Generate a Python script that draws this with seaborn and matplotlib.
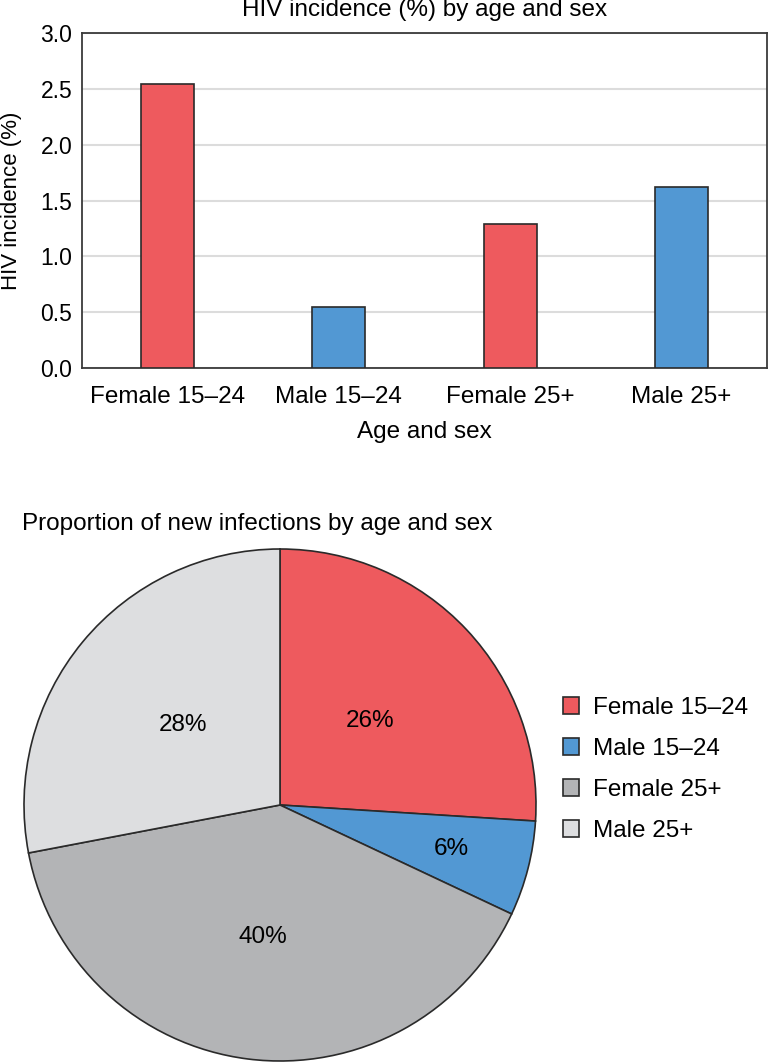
import matplotlib
matplotlib.use("Agg")
import matplotlib.pyplot as plt
import seaborn as sns
import numpy as np
import pandas as pd

categories = ["Female 15–24", "Male 15–24", "Female 25+", "Male 25+"]
incidence = [2.54, 0.55, 1.29, 1.62]
bar_colors = ["#EE5A5E", "#5298D3", "#EE5A5E", "#5298D3"]
yticks = [0.0, 0.5, 1.0, 1.5, 2.0, 2.5, 3.0]

pie_shares = [26, 6, 40, 28]
pie_colors = ["#EE5A5E", "#5298D3", "#B3B4B6", "#DDDEE0"]
pie_label_dist = [0.48, 0.69, 0.52, 0.49]

sns.set_theme(style="white")
plt.rcParams["font.family"] = ["Liberation Sans", "DejaVu Sans"]
plt.rcParams["text.color"] = "black"
plt.rcParams["axes.labelcolor"] = "black"
plt.rcParams["xtick.color"] = "black"
plt.rcParams["ytick.color"] = "black"
FS = 17.5

W, H = 768, 1062
fig = plt.figure(figsize=(W / 100, H / 100), dpi=100)

# ---- bar chart ----
ax = fig.add_axes([82 / W, 1 - 368 / H, (767 - 82) / W, (368 - 33) / H])
df = pd.DataFrame({"cat": categories, "val": incidence})
sns.barplot(data=df, x="cat", y="val", hue="cat", palette=bar_colors, width=0.31,
            saturation=1, edgecolor="#2a2a2a", linewidth=1.2, legend=False, ax=ax,
            zorder=3)
ax.set_ylim(0, 3.0)
ax.set_xlim(-0.5, 3.5)
ax.set_yticks(yticks)
ax.set_yticklabels([f"{t:.1f}" for t in yticks])
ax.yaxis.grid(True, color="#DCDCDC", linewidth=1.5, zorder=0)
ax.set_axisbelow(True)
for s in ax.spines.values():
    s.set_color("#3a3a3a")
    s.set_linewidth(1.3)
ax.tick_params(axis="both", length=0, colors="black")
ax.tick_params(axis="x", labelsize=FS, pad=13)
ax.tick_params(axis="y", labelsize=16.5, pad=7)
ax.set_xlabel("Age and sex", fontsize=FS, labelpad=9, color="black")
ax.set_ylabel("HIV incidence (%)", fontsize=16, color="black")
ax.yaxis.set_label_coords(-0.088, 0.5)
ax.set_title("HIV incidence (%) by age and sex", fontsize=FS, pad=12.5, color="black")

# ---- pie chart ----
cx, cy, R = 280, 805, 256
lim = 1.03
side = 2 * lim * R
pax = fig.add_axes([(cx - lim * R) / W, (H - cy - lim * R) / H, side / W, side / H])
wedges, _ = pax.pie(pie_shares, colors=pie_colors, startangle=90, counterclock=False,
                    wedgeprops=dict(edgecolor="#2a2a2a", linewidth=1.2))
for w, share, d in zip(wedges, pie_shares, pie_label_dist):
    ang = np.deg2rad((w.theta1 + w.theta2) / 2)
    pax.text(d * np.cos(ang), d * np.sin(ang), f"{share}%", ha="center", va="center",
             fontsize=FS, color="black")
pax.set_xlim(-lim, lim)
pax.set_ylim(-lim, lim)
pax.set_aspect("equal")
pax.axis("off")

fig.text(22 / W, 1 - 530 / H, "Proportion of new infections by age and sex",
         fontsize=FS, ha="left", va="baseline", color="black")

leg = fig.legend(wedges, categories, loc="center left",
                 bbox_to_anchor=(563 / W, 1 - 769.5 / H),
                 frameon=False, fontsize=FS, handlelength=0.65, handleheight=0.65,
                 handletextpad=0.6, labelspacing=0.78, borderpad=0, borderaxespad=0)
for t in leg.get_texts():
    t.set_color("black")

fig.savefig("out.png", dpi=100)
